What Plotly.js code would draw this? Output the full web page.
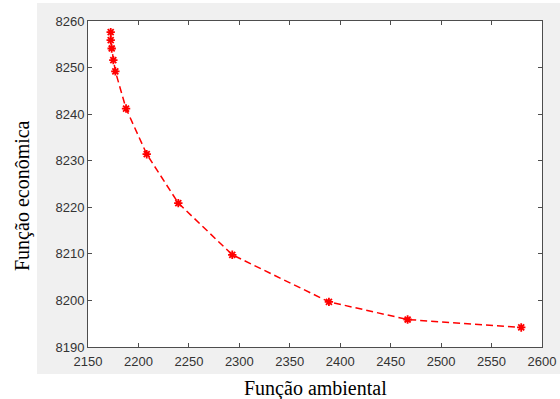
<!DOCTYPE html>
<html>
<head>
<meta charset="utf-8">
<script src="https://cdn.plot.ly/plotly-3.0.1.min.js"></script>
<style>html,body{margin:0;padding:0;background:#fff;}#chart{width:560px;height:399px;}</style>
</head>
<body>
<div id="chart"></div>
<script>
const ambiental = [2172.5, 2172.5, 2173.5, 2175.1, 2177.1, 2187.7, 2208.2, 2239.5, 2293.0, 2388.8, 2466.8, 2579.4];
const economica = [8257.6, 8255.9, 8254.1, 8251.6, 8249.2, 8241.2, 8231.4, 8220.9, 8209.8, 8199.7, 8195.9, 8194.2];
const xTitle = 'Função ambiental';
const yTitle = 'Função econômica';

const W = 560, H = 399;
const M = {l: 88, r: 18, t: 21, b: 52};
const pw = W - M.l - M.r, ph = H - M.t - M.b;
const px = v => (v - M.l) / pw;
const py = v => (H - M.b - v) / ph;

const axisCommon = {
  showgrid: false, zeroline: false,
  showline: true, linecolor: '#4d4d4d', linewidth: 1,
  mirror: 'ticks', ticks: 'inside', ticklen: 4, tickwidth: 1, tickcolor: '#4d4d4d',
  tickfont: {family: 'Liberation Sans, Arial, sans-serif', size: 13, color: '#333'}
};

const trace = {
  x: ambiental, y: economica, type: 'scatter', mode: 'lines+markers',
  line: {color: '#ff0000', width: 1.5, dash: '7px,4px'},
  marker: {symbol: 'asterisk-open', size: 7, color: '#ff0000', line: {color: '#ff0000', width: 1.8}},
  hoverinfo: 'skip'
};

const layout = {
  width: W, height: H,
  margin: M,
  paper_bgcolor: '#ffffff', plot_bgcolor: '#ffffff',
  showlegend: false,
  xaxis: Object.assign({}, axisCommon, {range: [2150, 2600], dtick: 50, tick0: 2150, ticklabelstandoff: 2}),
  yaxis: Object.assign({}, axisCommon, {range: [8190, 8260], dtick: 10, tick0: 8190}),
  shapes: [
    {type: 'rect', xref: 'paper', yref: 'paper', layer: 'below',
     x0: px(37), x1: px(560), y0: py(374), y1: py(3),
     fillcolor: '#f0f0f0', line: {width: 0}},
    {type: 'rect', xref: 'paper', yref: 'paper', layer: 'below',
     x0: 0, x1: 1, y0: 0, y1: 1,
     fillcolor: '#ffffff', line: {width: 0}}
  ],
  annotations: [
    {text: xTitle, xref: 'paper', yref: 'paper', x: px(315), y: py(388),
     xanchor: 'center', yanchor: 'middle', showarrow: false,
     font: {family: 'Liberation Serif, Times New Roman, serif', size: 20, color: '#000'}},
    {text: yTitle, xref: 'paper', yref: 'paper', x: px(22), y: py(196),
     xanchor: 'center', yanchor: 'middle', showarrow: false, textangle: -90,
     font: {family: 'Liberation Serif, Times New Roman, serif', size: 20, color: '#000'}}
  ]
};

Plotly.newPlot('chart', [trace], layout, {staticPlot: true, displayModeBar: false});
</script>
</body>
</html>
